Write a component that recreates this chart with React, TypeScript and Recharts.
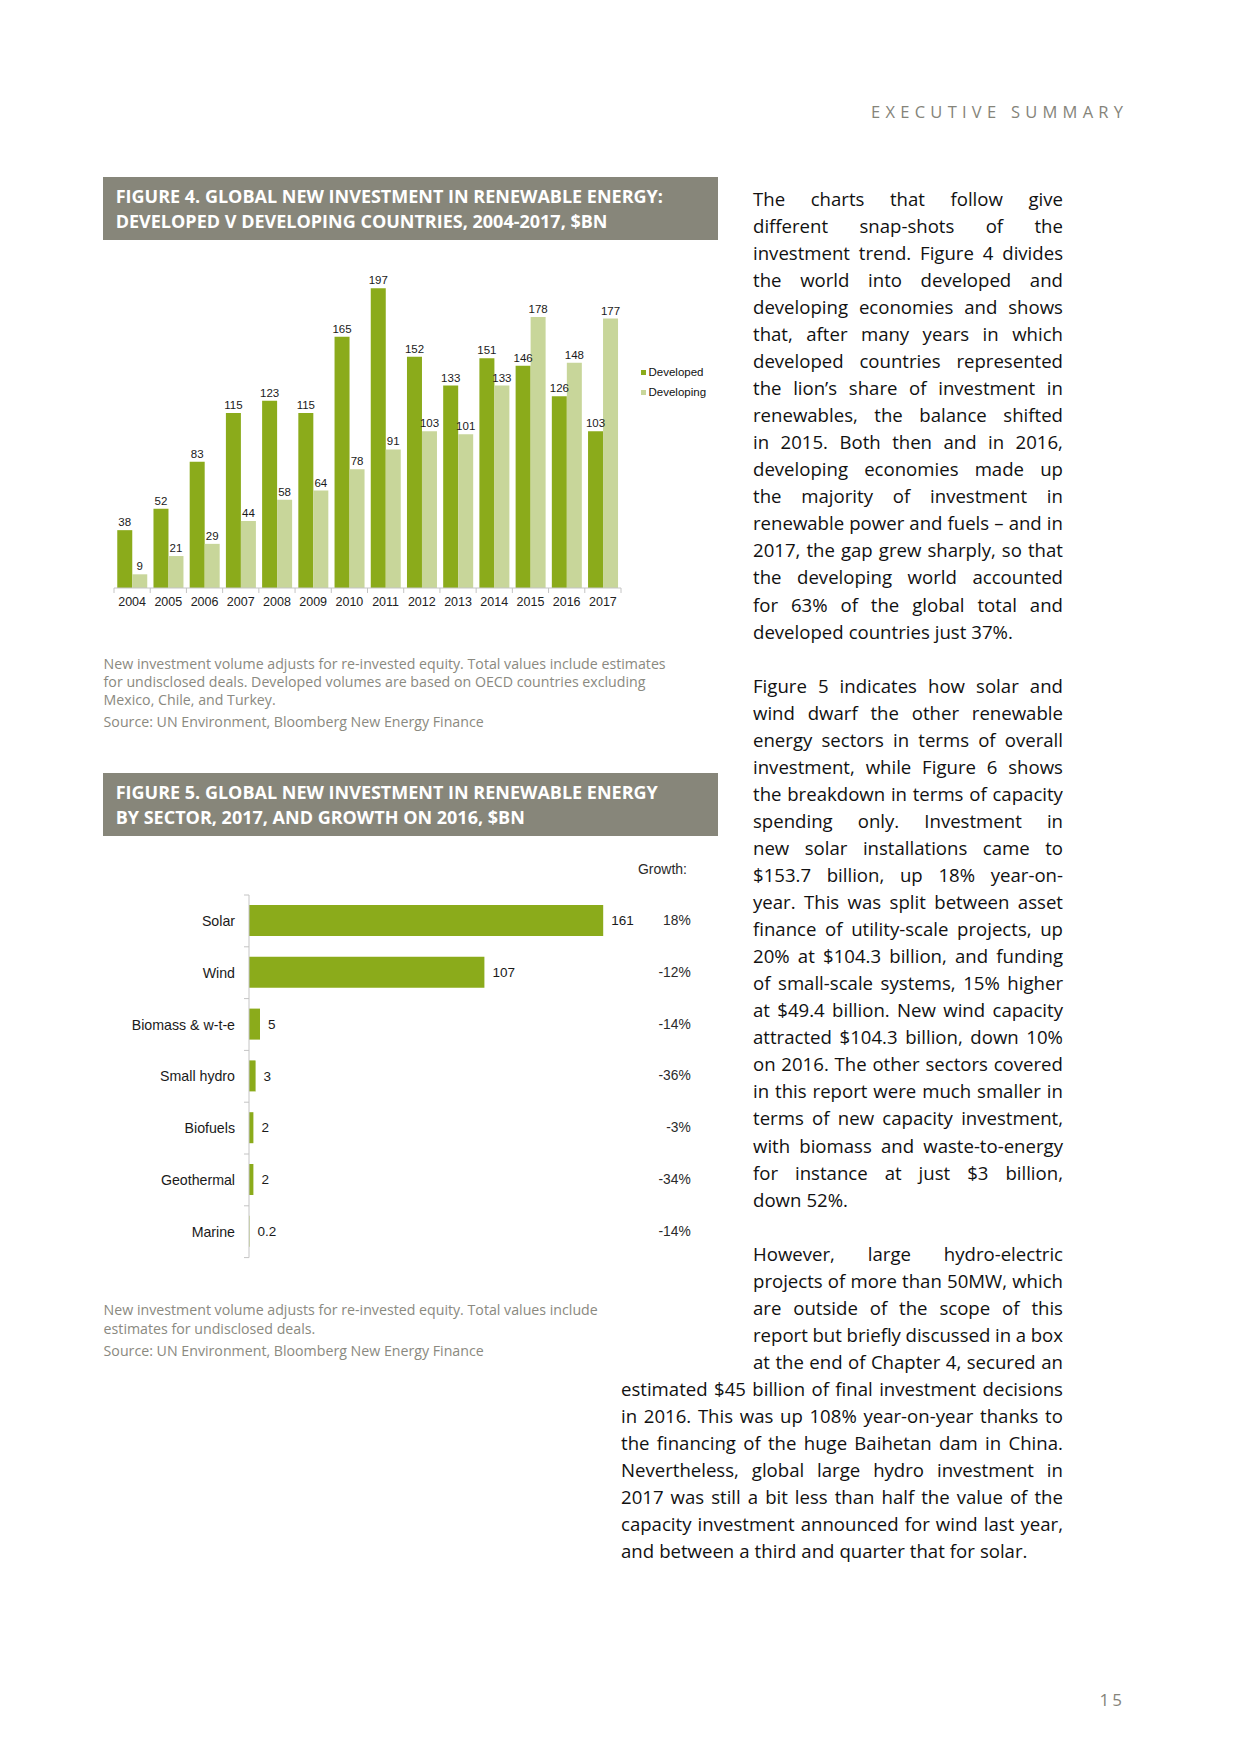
import React from 'react';
import { BarChart, Bar, XAxis, YAxis, LabelList } from 'recharts';

const years = ['2004', '2005', '2006', '2007', '2008', '2009', '2010', '2011', '2012', '2013', '2014', '2015', '2016', '2017'];
const developed = [38, 52, 83, 115, 123, 115, 165, 197, 152, 133, 151, 146, 126, 103];
const developing = [9, 21, 29, 44, 58, 64, 78, 91, 103, 101, 133, 178, 148, 177];

const sectors = ['Solar', 'Wind', 'Biomass & w-t-e', 'Small hydro', 'Biofuels', 'Geothermal', 'Marine'];
const sectorValues = [161, 107, 5, 3, 2, 2, 0.2];
const growthLabels = ['18%', '-12%', '-14%', '-36%', '-3%', '-34%', '-14%'];

const fig4Data = years.map((y, i) => ({ year: y, developed: developed[i], developing: developing[i] }));
const fig5Data = sectors.map((s, i) => ({ sector: s, value: sectorValues[i], growth: growthLabels[i] }));

const DEV = '#8bab1b';
const DEVING = '#c8d69a';
const HEADER = '#87867a';
const GRAYTXT = '#8a8980';
const AXIS = '#c4c4c4';
const CHARTFONT = '"Liberation Sans", Arial, sans-serif';
const BODYFONT = '"Open Sans", "Noto Sans", sans-serif';

const para1 = [
  'The charts that follow give',
  'different snap-shots of the',
  'investment trend. Figure 4 divides',
  'the world into developed and',
  'developing economies and shows',
  'that, after many years in which',
  'developed countries represented',
  'the lion\u2019s share of investment in',
  'renewables, the balance shifted',
  'in 2015. Both then and in 2016,',
  'developing economies made up',
  'the majority of investment in',
  'renewable power and fuels \u2013 and in',
  '2017, the gap grew sharply, so that',
  'the developing world accounted',
  'for 63% of the global total and',
  'developed countries just 37%.',
];
const para2 = [
  'Figure 5 indicates how solar and',
  'wind dwarf the other renewable',
  'energy sectors in terms of overall',
  'investment, while Figure 6 shows',
  'the breakdown in terms of capacity',
  'spending only. Investment in',
  'new solar installations came to',
  '$153.7 billion, up 18% year-on-',
  'year. This was split between asset',
  'finance of utility-scale projects, up',
  '20% at $104.3 billion, and funding',
  'of small-scale systems, 15% higher',
  'at $49.4 billion. New wind capacity',
  'attracted $104.3 billion, down 10%',
  'on 2016. The other sectors covered',
  'in this report were much smaller in',
  'terms of new capacity investment,',
  'with biomass and waste-to-energy',
  'for instance at just $3 billion,',
  'down 52%.',
];
const para3a = [
  'However, large hydro-electric',
  'projects of more than 50MW, which',
  'are outside of the scope of this',
  'report but briefly discussed in a box',
  'at the end of Chapter 4, secured an',
];
const para3b = [
  'estimated $45 billion of final investment decisions',
  'in 2016. This was up 108% year-on-year thanks to',
  'the financing of the huge Baihetan dam in China.',
  'Nevertheless, global large hydro investment in',
  '2017 was still a bit less than half the value of the',
  'capacity investment announced for wind last year,',
  'and between a third and quarter that for solar.',
];

const LH = 27.05;
const COL_RIGHT = 1063;

function Line({ text, x, y, w, justify }: { text: string; x: number; y: number; w: number; justify: boolean }) {
  const words = text.split(' ');
  return (
    <div
      style={{
        position: 'absolute',
        left: x,
        top: y - LH / 2,
        width: w,
        height: LH,
        lineHeight: LH + 'px',
        display: 'flex',
        justifyContent: justify ? 'space-between' : 'flex-start',
        gap: justify ? 2 : 5,
        whiteSpace: 'nowrap',
        fontFamily: BODYFONT,
        fontSize: 18.6,
        color: '#111111',
      }}
    >
      {words.map((wd, i) => (
        <span key={i}>{wd}</span>
      ))}
    </div>
  );
}

function Paragraph({ lines, x, y0, w, lastJustify }: { lines: string[]; x: number; y0: number; w: number; lastJustify?: boolean }) {
  return (
    <>
      {lines.map((t, i) => (
        <Line key={i} text={t} x={x} y={y0 + i * LH} w={w} justify={i < lines.length - 1 || !!lastJustify} />
      ))}
    </>
  );
}

function Header({ top, lines }: { top: number; lines: string[] }) {
  return (
    <div
      style={{
        position: 'absolute',
        left: 103,
        top,
        width: 615,
        height: 63,
        background: HEADER,
        color: '#ffffff',
        fontFamily: BODYFONT,
        fontWeight: 700,
        fontSize: 18,
      }}
    >
      {lines.map((l, i) => (
        <div key={i} style={{ position: 'absolute', left: 12.7, top: 19 + i * 25 - 12, height: 24, lineHeight: '24px', whiteSpace: 'nowrap' }}>
          {l}
        </div>
      ))}
    </div>
  );
}

function Note({ top, lines }: { top: number; lines: { t: string; dy: number }[] }) {
  return (
    <>
      {lines.map((l, i) => (
        <div
          key={i}
          style={{
            position: 'absolute',
            left: 103.6,
            top: top + l.dy - 10,
            height: 20,
            lineHeight: '20px',
            fontFamily: BODYFONT,
            fontSize: 14.2,
            color: GRAYTXT,
            whiteSpace: 'nowrap',
          }}
        >
          {l.t}
        </div>
      ))}
    </>
  );
}

const legendItems = [
  { name: 'Developed', color: DEV },
  { name: 'Developing', color: DEVING },
];

const GrowthLabel = (props: any) => {
  const { y, height, value } = props;
  return (
    <text x={590.7} y={y + height / 2} textAnchor="end" dominantBaseline="central" fontFamily={CHARTFONT} fontSize={13.8} fill="#2a2a2a">
      {value}
    </text>
  );
};

const PLOT1_W = 507;
const YEAR_BAND = PLOT1_W / 14;
const YearTick = (props: any) => {
  const { x, y, payload, index } = props;
  const axisY = y - 9;
  const half = YEAR_BAND / 2;
  return (
    <g>
      <line x1={x - half} x2={x - half} y1={axisY} y2={axisY + 5} stroke={AXIS} />
      {index === years.length - 1 && <line x1={x + half} x2={x + half} y1={axisY} y2={axisY + 5} stroke={AXIS} />}
      <text x={x} y={y} dy="0.71em" textAnchor="middle" fontFamily={CHARTFONT} fontSize={12.5} fill="#222">
        {payload.value}
      </text>
    </g>
  );
};

const SECTOR_BAND = 362.6 / 7;
const SectorTick = (props: any) => {
  const { x, y, payload, index } = props;
  const axisX = x + 14;
  const half = SECTOR_BAND / 2;
  return (
    <g>
      <line x1={axisX - 5} x2={axisX} y1={y - half} y2={y - half} stroke={AXIS} />
      {index === sectors.length - 1 && <line x1={axisX - 5} x2={axisX} y1={y + half} y2={y + half} stroke={AXIS} />}
      <text x={x} y={y} textAnchor="end" dominantBaseline="central" fontFamily={CHARTFONT} fontSize={14.2} fill="#1a1a1a">
        {payload.value}
      </text>
    </g>
  );
};

export default function App() {
  return (
    <div style={{ position: 'absolute', left: 0, top: 0, width: 1240, height: 1754, background: '#ffffff', overflow: 'hidden' }}>
      <div
        style={{
          position: 'absolute',
          right: 1240 - 1123,
          top: 112 - 12,
          height: 24,
          lineHeight: '24px',
          fontFamily: BODYFONT,
          fontSize: 16.5,
          letterSpacing: 5.25,
          color: '#85847a',
          whiteSpace: 'nowrap',
        }}
      >
        EXECUTIVE SUMMAR<span style={{ letterSpacing: 0 }}>Y</span>
      </div>

      <Header top={177} lines={['FIGURE 4. GLOBAL NEW INVESTMENT IN RENEWABLE ENERGY:', 'DEVELOPED V DEVELOPING COUNTRIES, 2004-2017, $BN']} />

      <div style={{ position: 'absolute', left: 100, top: 240 }}>
        <BarChart width={560} height={390} data={fig4Data} margin={{ top: 43.6, right: 560 - 14 - PLOT1_W, bottom: 12, left: 14 }} barCategoryGap="9%" barGap={0}>
          <XAxis
            dataKey="year"
            height={30}
            axisLine={{ stroke: AXIS }}
            tickLine={false}
            tickSize={6}
            tickMargin={3}
            interval={0}
            tick={YearTick}
          />
          <YAxis hide domain={[0, 200]} />
          <Bar dataKey="developed" fill={DEV} isAnimationActive={false}>
            <LabelList dataKey="developed" position="top" offset={4} style={{ fontFamily: CHARTFONT, fontSize: 11.5, fill: '#1a1a1a' }} />
          </Bar>
          <Bar dataKey="developing" fill={DEVING} isAnimationActive={false}>
            <LabelList dataKey="developing" position="top" offset={4} style={{ fontFamily: CHARTFONT, fontSize: 11.5, fill: '#1a1a1a' }} />
          </Bar>
        </BarChart>
      </div>

      <div style={{ position: 'absolute', left: 640.5, top: 362 }}>
        {legendItems.map((it, i) => (
          <div key={i} style={{ display: 'flex', alignItems: 'center', height: 20, fontFamily: CHARTFONT, fontSize: 11.5, color: '#111' }}>
            <span style={{ display: 'inline-block', width: 5, height: 5, background: it.color, marginRight: 3 }} />
            {it.name}
          </div>
        ))}
      </div>

      <Note
        top={663.5}
        lines={[
          { t: 'New investment volume adjusts for re-invested equity. Total values include estimates', dy: 0 },
          { t: 'for undisclosed deals. Developed volumes are based on OECD countries excluding', dy: 18 },
          { t: 'Mexico, Chile, and Turkey.', dy: 36.5 },
          { t: 'Source: UN Environment, Bloomberg New Energy Finance', dy: 58.5 },
        ]}
      />

      <Header top={773} lines={['FIGURE 5. GLOBAL NEW INVESTMENT IN RENEWABLE ENERGY', 'BY SECTOR, 2017, AND GROWTH ON 2016, $BN']} />

      <div
        style={{
          position: 'absolute',
          left: 600,
          width: 87,
          textAlign: 'right',
          top: 869 - 10,
          height: 20,
          lineHeight: '20px',
          fontFamily: CHARTFONT,
          fontSize: 14,
          color: '#2a2a2a',
        }}
      >
        Growth:
      </div>

      <div style={{ position: 'absolute', left: 100, top: 860 }}>
        <BarChart width={600} height={420} data={fig5Data} layout="vertical" margin={{ top: 35, right: 11, bottom: 22.4, left: 9 }}>
          <XAxis type="number" hide domain={[0, 200]} />
          <YAxis
            type="category"
            dataKey="sector"
            width={140}
            axisLine={{ stroke: AXIS }}
            tickLine={false}
            tickSize={6}
            tickMargin={8}
            interval={0}
            tick={SectorTick}
          />
          <Bar dataKey="value" fill={DEV} barSize={31} isAnimationActive={false}>
            <LabelList dataKey="value" position="right" offset={8} style={{ fontFamily: CHARTFONT, fontSize: 13.5, fill: '#1a1a1a' }} />
            <LabelList dataKey="growth" content={GrowthLabel} />
          </Bar>
        </BarChart>
      </div>

      <Note
        top={1310}
        lines={[
          { t: 'New investment volume adjusts for re-invested equity. Total values include', dy: 0 },
          { t: 'estimates for undisclosed deals.', dy: 18.5 },
          { t: 'Source: UN Environment, Bloomberg New Energy Finance', dy: 41 },
        ]}
      />

      <Paragraph lines={para1} x={753} y0={198.3} w={COL_RIGHT - 753} />
      <Paragraph lines={para2} x={753} y0={198.3 + 18 * LH} w={COL_RIGHT - 753} />
      <Paragraph lines={para3a} x={753} y0={198.3 + 39 * LH} w={COL_RIGHT - 753} lastJustify />
      <Paragraph lines={para3b} x={621} y0={198.3 + 44 * LH} w={COL_RIGHT - 621} />

      <div
        style={{
          position: 'absolute',
          right: 1240 - 1122,
          top: 1700 - 12,
          height: 24,
          lineHeight: '24px',
          fontFamily: BODYFONT,
          fontSize: 17,
          letterSpacing: 3,
          color: '#85847a',
        }}
      >
        1<span style={{ letterSpacing: 0 }}>5</span>
      </div>
    </div>
  );
}
